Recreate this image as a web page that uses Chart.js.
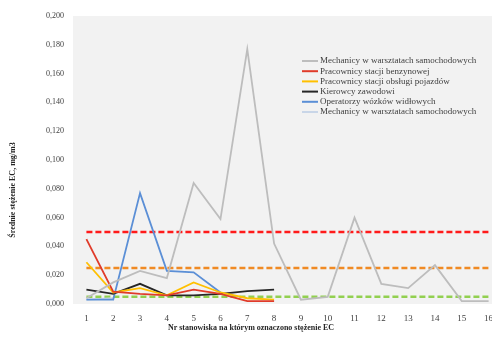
<!DOCTYPE html>
<html>
<head>
<meta charset="utf-8">
<script src="https://cdn.jsdelivr.net/npm/chart.js@4.4.1/dist/chart.umd.min.js"></script>
<style>
    html, body { margin: 0; padding: 0; background: #fff; overflow: hidden; }
    #wrap { width: 506px; height: 340px; }
</style>
</head>
<body>
<div id="wrap"><canvas id="c" width="506" height="340"></canvas></div>
<script>
var stanowiska = ['1', '2', '3', '4', '5', '6', '7', '8', '9', '10', '11', '12', '13', '14', '15', '16'];

var mechanicy = [0.004, 0.015, 0.023, 0.018, 0.084, 0.059, 0.177, 0.042, 0.003, 0.005, 0.060, 0.014, 0.011, 0.027, 0.002, 0.002];
var stacjaBenzynowa = [0.045, 0.0085, 0.007, 0.006, 0.010, 0.007, 0.002, 0.002];
var stacjaObslugi = [0.029, 0.008, 0.011, 0.006, 0.015, 0.008, 0.004, 0.003];
var kierowcy = [0.010, 0.007, 0.014, 0.006, 0.006, 0.007, 0.009, 0.010];
var operatorzy = [0.003, 0.003, 0.077, 0.023, 0.022, 0.008];
var mechanicy2 = [0.003, 0.004];

var progi = [0.050, 0.025, 0.005];
var progKolory = ['#ff1a1a', '#f08a24', '#92d050'];

var serif = '"Liberation Serif", "DejaVu Serif", serif';

(function () {
    function flat(v) {
        return stanowiska.map(function () { return v; });
    }

    var datasets = [
        { label: 'Mechanicy w warsztatach samochodowych', data: mechanicy, borderColor: '#bdbdbd', borderWidth: 1.8 },
        { label: 'Pracownicy stacji benzynowej', data: stacjaBenzynowa, borderColor: '#e03b2a', borderWidth: 1.8 },
        { label: 'Pracownicy stacji obsługi pojazdów', data: stacjaObslugi, borderColor: '#ffc000', borderWidth: 1.8 },
        { label: 'Kierowcy zawodowi', data: kierowcy, borderColor: '#262626', borderWidth: 1.8 },
        { label: 'Operatorzy wózków widłowych', data: operatorzy, borderColor: '#5b8fd6', borderWidth: 1.8 },
        { label: 'Mechanicy w warsztatach samochodowych', data: mechanicy2, borderColor: '#c9d6e8', borderWidth: 1.8 }
    ];
    datasets.forEach(function (ds) {
        ds.pointRadius = 0;
        ds.tension = 0;
        ds.fill = false;
    });
    progi.forEach(function (p, i) {
        datasets.push({
            label: '',
            data: flat(p),
            borderColor: progKolory[i],
            borderWidth: 2.4,
            borderDash: [6, 3],
            pointRadius: 0,
            fill: false,
            _prog: true
        });
    });

    var bgPlugin = {
        id: 'plotBg',
        beforeDraw: function (chart) {
            var a = chart.chartArea;
            var ctx = chart.ctx;
            ctx.save();
            ctx.fillStyle = '#f2f2f2';
            ctx.fillRect(a.left, a.top, a.right - a.left, a.bottom - a.top);
            ctx.restore();
        }
    };

    var legendPlugin = {
        id: 'insideLegend',
        afterDraw: function (chart) {
            var ctx = chart.ctx;
            ctx.save();
            ctx.font = '9px ' + serif;
            ctx.textBaseline = 'middle';
            var y = 61;
            chart.data.datasets.forEach(function (ds) {
                if (ds._prog) return;
                ctx.strokeStyle = ds.borderColor;
                ctx.lineWidth = 2;
                ctx.beginPath();
                ctx.moveTo(302, y);
                ctx.lineTo(318, y);
                ctx.stroke();
                ctx.fillStyle = '#404040';
                ctx.fillText(ds.label, 320, y);
                y += 10.2;
            });
            ctx.restore();
        }
    };

    var titlesPlugin = {
        id: 'axisTitles',
        afterDraw: function (chart) {
            var ctx = chart.ctx;
            ctx.save();
            ctx.fillStyle = '#262626';
            ctx.font = 'bold 8px ' + serif;
            ctx.textAlign = 'center';
            ctx.textBaseline = 'middle';
            ctx.fillText('Nr stanowiska na którym oznaczono stężenie EC', 251, 328);
            ctx.translate(13, 190);
            ctx.rotate(-Math.PI / 2);
            ctx.fillText('Średnie stężenie EC, mg/m3', 0, 0);
            ctx.restore();
        }
    };

    new Chart(document.getElementById('c'), {
        type: 'line',
        data: { labels: stanowiska, datasets: datasets },
        plugins: [bgPlugin, legendPlugin, titlesPlugin],
        options: {
            responsive: false,
            animation: false,
            layout: { padding: { top: 16, right: 4, left: 0, bottom: 0 } },
            plugins: {
                legend: { display: false },
                tooltip: { enabled: false }
            },
            scales: {
                x: {
                    offset: true,
                    grid: { display: false, drawTicks: false },
                    border: { display: false },
                    ticks: {
                        color: '#404040',
                        font: { family: serif, size: 9 },
                        padding: 9,
                        autoSkip: false,
                        maxRotation: 0
                    },
                    afterFit: function (scale) { scale.height = 36; }
                },
                y: {
                    min: 0,
                    max: 0.2,
                    grid: { display: false, drawTicks: false },
                    border: { display: false },
                    ticks: {
                        stepSize: 0.02,
                        color: '#404040',
                        font: { family: serif, size: 8 },
                        padding: 9,
                        callback: function (v) { return v.toFixed(3).replace('.', ','); }
                    },
                    afterFit: function (scale) { scale.width = 73; }
                }
            }
        }
    });
})();
</script>
</body>
</html>
